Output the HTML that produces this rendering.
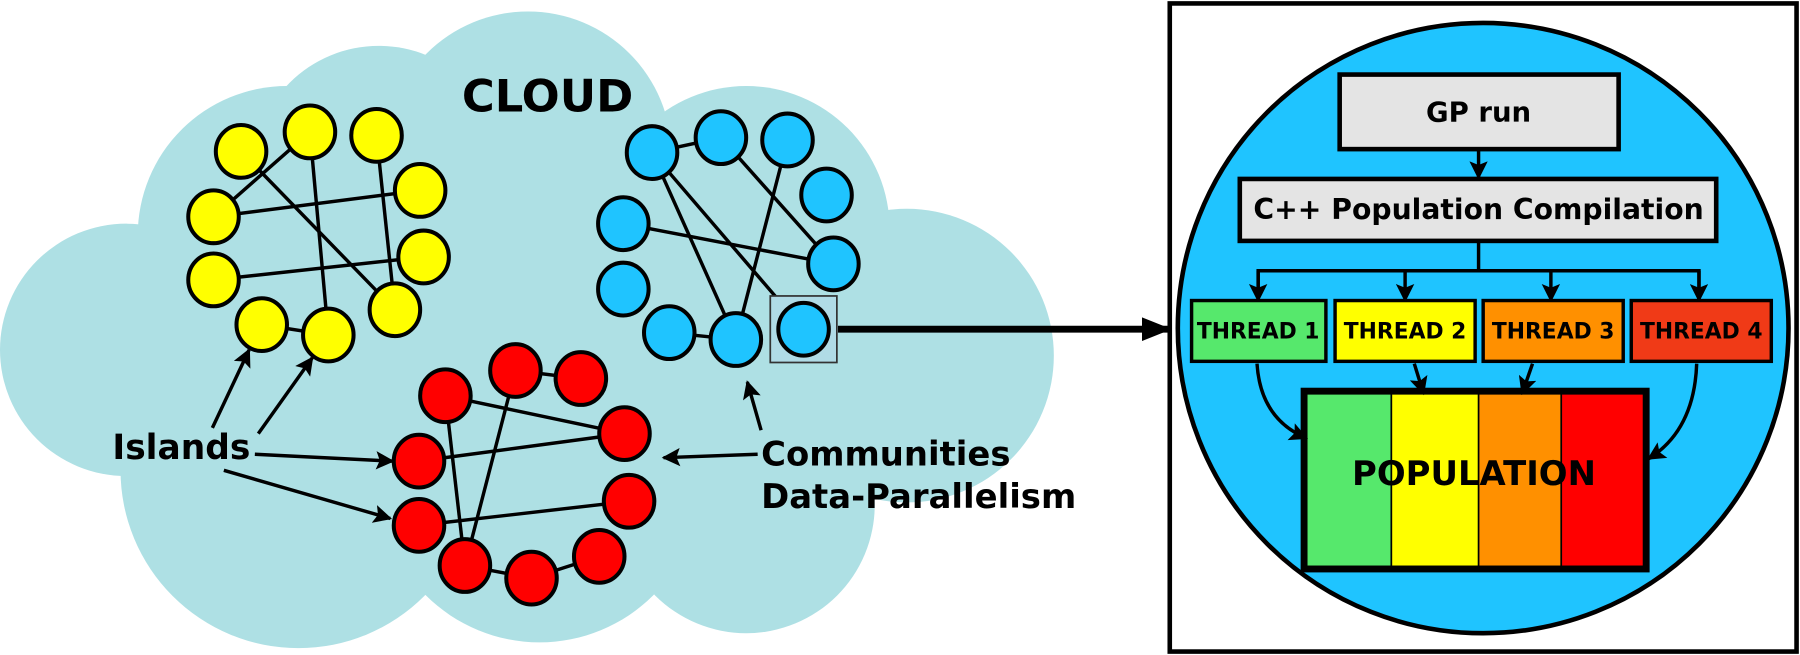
<!DOCTYPE html>
<html><head><meta charset="utf-8"><style>html,body{margin:0;padding:0;background:#fff;overflow:hidden}svg{display:block}</style></head>
<body>
<svg width="1800" height="655" viewBox="0 0 1568 571" preserveAspectRatio="none" xmlns="http://www.w3.org/2000/svg" font-family="'DejaVu Sans','Liberation Sans',sans-serif" font-weight="bold">
<defs>
<marker id="a2" viewBox="0 0 10 10" refX="9" refY="5" markerWidth="16" markerHeight="16" orient="auto" markerUnits="userSpaceOnUse"><path d="M0,0 L10,5 L0,10 L2,5 Z" fill="#000"/></marker>
<marker id="a3" viewBox="0 0 10 10" refX="9" refY="5" markerWidth="26" markerHeight="26" orient="auto" markerUnits="userSpaceOnUse"><path d="M0,1 L10,5 L0,9 Z" fill="#000"/></marker>
</defs>
<rect width="1568" height="571" fill="#fff"/>
<g fill="#aee0e4">
<circle cx="110" cy="305" r="110"/><circle cx="250" cy="205" r="130"/><circle cx="460" cy="135" r="125"/><circle cx="650" cy="200" r="125"/><circle cx="790" cy="310" r="128"/><circle cx="260" cy="410" r="155"/><circle cx="470" cy="420" r="140"/><circle cx="650" cy="440" r="112"/><circle cx="330" cy="150" r="110"/><ellipse cx="480" cy="300" rx="330" ry="200"/>
</g>
<g stroke="#000" stroke-width="3" fill="none">
<line x1="270" y1="115" x2="186" y2="189"/><line x1="210" y1="132" x2="344" y2="270"/><line x1="270" y1="115" x2="286" y2="292"/><line x1="328" y1="118" x2="344" y2="270"/><line x1="186" y1="189" x2="366" y2="166"/><line x1="186" y1="244" x2="369" y2="224"/><line x1="228" y1="283" x2="286" y2="292"/>
<line x1="568" y1="133" x2="628" y2="120"/><line x1="568" y1="133" x2="641" y2="296"/><line x1="568" y1="133" x2="700" y2="287"/><line x1="628" y1="120" x2="726" y2="230"/><line x1="686" y1="122" x2="641" y2="296"/><line x1="543" y1="195" x2="726" y2="230"/><line x1="583" y1="290" x2="641" y2="296"/>
<line x1="388" y1="345" x2="544" y2="378"/><line x1="365" y1="402" x2="544" y2="378"/><line x1="365" y1="458" x2="548" y2="437"/><line x1="388" y1="345" x2="405" y2="493"/><line x1="449" y1="323" x2="405" y2="493"/><line x1="449" y1="323" x2="506" y2="330"/><line x1="405" y1="493" x2="463" y2="504"/><line x1="463" y1="504" x2="522" y2="485"/>
</g>
<rect x="671" y="258" width="58" height="58" fill="#b0dbe6" stroke="#333" stroke-width="1.5"/>
<g stroke="#000" stroke-width="3.5">
<g fill="#ffff00"><ellipse cx="210" cy="132" rx="22" ry="23"/><ellipse cx="270" cy="115" rx="22" ry="23"/><ellipse cx="328" cy="118" rx="22" ry="23"/><ellipse cx="186" cy="189" rx="22" ry="23"/><ellipse cx="366" cy="166" rx="22" ry="23"/><ellipse cx="186" cy="244" rx="22" ry="23"/><ellipse cx="369" cy="224" rx="22" ry="23"/><ellipse cx="228" cy="283" rx="22" ry="23"/><ellipse cx="286" cy="292" rx="22" ry="23"/><ellipse cx="344" cy="270" rx="22" ry="23"/></g>
<g fill="#1fc4ff"><ellipse cx="568" cy="133" rx="22" ry="23"/><ellipse cx="628" cy="120" rx="22" ry="23"/><ellipse cx="686" cy="122" rx="22" ry="23"/><ellipse cx="543" cy="195" rx="22" ry="23"/><ellipse cx="720" cy="170" rx="22" ry="23"/><ellipse cx="543" cy="252" rx="22" ry="23"/><ellipse cx="726" cy="230" rx="22" ry="23"/><ellipse cx="583" cy="290" rx="22" ry="23"/><ellipse cx="641" cy="296" rx="22" ry="23"/><ellipse cx="700" cy="287" rx="22" ry="23"/></g>
<g fill="#ff0000"><ellipse cx="388" cy="345" rx="22" ry="23"/><ellipse cx="449" cy="323" rx="22" ry="23"/><ellipse cx="506" cy="330" rx="22" ry="23"/><ellipse cx="544" cy="378" rx="22" ry="23"/><ellipse cx="365" cy="402" rx="22" ry="23"/><ellipse cx="548" cy="437" rx="22" ry="23"/><ellipse cx="365" cy="458" rx="22" ry="23"/><ellipse cx="522" cy="485" rx="22" ry="23"/><ellipse cx="405" cy="493" rx="22" ry="23"/><ellipse cx="463" cy="504" rx="22" ry="23"/></g>
</g>
<text x="477" y="97" font-size="39" text-anchor="middle">CLOUD</text>
<text x="158" y="400" font-size="30" text-anchor="middle">Islands</text>
<text x="663" y="406" font-size="29.5">Communities</text>
<text x="663" y="443" font-size="29.5">Data-Parallelism</text>
<g stroke="#000" stroke-width="3" marker-end="url(#a2)">
<line x1="185" y1="373" x2="217" y2="305"/><line x1="225" y1="378" x2="272" y2="312"/><line x1="222" y1="396" x2="342" y2="402"/><line x1="195" y1="410" x2="340" y2="452"/><line x1="660" y1="396" x2="578" y2="399"/><line x1="663" y1="375" x2="651" y2="333"/>
</g>
<line x1="730" y1="287" x2="1018" y2="287" stroke="#000" stroke-width="6" marker-end="url(#a3)"/>
<rect x="1019" y="3" width="546" height="565" fill="#fff" stroke="#000" stroke-width="4"/>
<circle cx="1292" cy="286" r="266" fill="#1fc4ff" stroke="#000" stroke-width="4"/>
<rect x="1167" y="65" width="243" height="65" fill="#e4e4e4" stroke="#000" stroke-width="4"/>
<text x="1288" y="106" font-size="24" text-anchor="middle">GP run</text>
<rect x="1080" y="156" width="415" height="54" fill="#e4e4e4" stroke="#000" stroke-width="4"/>
<text x="1288" y="191" font-size="24.6" text-anchor="middle">C++ Population Compilation</text>
<g stroke="#000" stroke-width="3" fill="none">
<line x1="1288" y1="130" x2="1288" y2="155" marker-end="url(#a2)"/>
<polyline points="1096,262 1096,236 1480,236 1480,262"/><line x1="1288" y1="210" x2="1288" y2="236"/>
<line x1="1096" y1="236" x2="1096" y2="262" marker-end="url(#a2)"/><line x1="1224" y1="236" x2="1224" y2="262" marker-end="url(#a2)"/><line x1="1351" y1="236" x2="1351" y2="262" marker-end="url(#a2)"/><line x1="1480" y1="236" x2="1480" y2="262" marker-end="url(#a2)"/>
</g>
<g stroke="#000" stroke-width="3">
<rect x="1038" y="262" width="117" height="53" fill="#56e86c"/><rect x="1163" y="262" width="122" height="53" fill="#ffff00"/><rect x="1292" y="262" width="122" height="53" fill="#ff9000"/><rect x="1421" y="262" width="122" height="53" fill="#f03a17"/>
</g>
<g font-size="19" text-anchor="middle"><text x="1096" y="295">THREAD 1</text><text x="1224" y="295">THREAD 2</text><text x="1353" y="295">THREAD 3</text><text x="1482" y="295">THREAD 4</text></g>
<rect x="1138" y="342" width="74" height="153" fill="#56e86c"/><rect x="1212" y="342" width="76" height="153" fill="#ffff00"/><rect x="1288" y="342" width="72" height="153" fill="#ff9000"/><rect x="1360" y="342" width="74" height="153" fill="#ff0000"/>
<g stroke="#000" stroke-width="1.5"><line x1="1212" y1="342" x2="1212" y2="495"/><line x1="1288" y1="342" x2="1288" y2="495"/><line x1="1360" y1="342" x2="1360" y2="495"/></g>
<rect x="1136" y="341" width="298" height="155" fill="none" stroke="#000" stroke-width="6"/>
<text x="1284" y="423" font-size="29.5" text-anchor="middle">POPULATION</text>
<g stroke="#000" stroke-width="3" fill="none" marker-end="url(#a2)">
<path d="M1095,317 Q1098,365 1138,382"/><path d="M1232,317 L1240,343"/><path d="M1335,317 L1326,343"/><path d="M1478,317 Q1476,375 1436,400"/>
</g>
</svg>
</body></html>
